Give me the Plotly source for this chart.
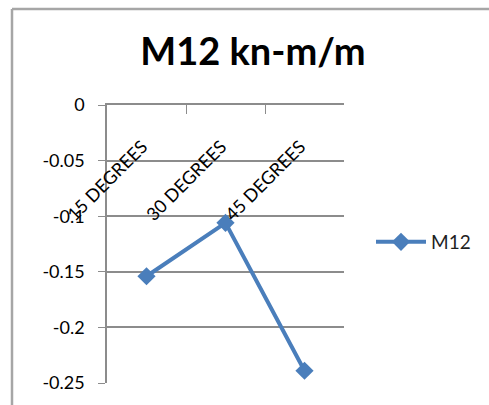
import plotly.graph_objects as go

categories = ["15 DEGREES", "30 DEGREES", "45 DEGREES"]
m12_values = [-0.154, -0.106, -0.239]
y_tick_vals = [0, -0.05, -0.1, -0.15, -0.2, -0.25]
y_tick_text = ["0", "-0.05", "-0.1", "-0.15", "-0.2", "-0.25"]

FONT = "Lato"
GRID = "#8c8c8c"

fig = go.Figure()
fig.add_trace(go.Scatter(
    x=categories, y=m12_values, name="M12", mode="lines+markers",
    line=dict(color="#4a7ebb", width=4),
    marker=dict(symbol="diamond", size=14, color="#4a7ebb"),
))

W, H = 489, 405
L, R, T, B = 107, 145, 105, 22
pw, ph = W - L - R, H - T - B

def px_x(p):
    return (p - L) / pw

def px_y(p):
    return (H - B - p) / ph

# category labels drawn on the category axis positions
annotations = [
    dict(x=c, xref="x", y=px_y(133), yref="paper", text=c, showarrow=False,
         textangle=-45, xanchor="right", yanchor="top", xshift=8,
         font=dict(size=18, family=FONT, color="#000000"))
    for c in categories
]

fig.update_layout(
    width=W, height=H,
    margin=dict(l=L, r=R, t=T, b=B, autoexpand=False),
    paper_bgcolor="white", plot_bgcolor="white",
    font=dict(family=FONT, color="#000000", size=16),
    title=dict(text="<b>M12 kn-m/m</b>", x=253 / W, xanchor="center", xref="container",
               y=1 - 52 / H, yanchor="middle", yref="container",
               font=dict(size=38, family=FONT, color="#000000")),
    showlegend=True,
    legend=dict(x=px_x(371), y=px_y(242), xanchor="left", yanchor="middle",
                font=dict(size=19, family=FONT, color="#1f1f1f"),
                itemwidth=50, bgcolor="rgba(0,0,0,0)"),
    xaxis=dict(
        type="category", side="top", range=[-0.5, 2.5],
        showline=True, linecolor=GRID, linewidth=1.5,
        ticks="inside", ticklen=9, tickcolor=GRID, tickson="boundaries",
        showticklabels=False, automargin=False,
        showgrid=False, zeroline=False,
    ),
    yaxis=dict(
        range=[-0.25, 0], tickvals=y_tick_vals, ticktext=y_tick_text,
        showline=True, linecolor=GRID, linewidth=1.5,
        ticks="outside", ticklen=7, tickcolor=GRID,
        showgrid=True, gridcolor=GRID, gridwidth=1.5,
        zeroline=False, automargin=False,
        tickfont=dict(size=18, family=FONT, color="#000000"),
        ticklabelstandoff=10,
    ),
    annotations=annotations,
    shapes=[
        dict(type="line", xref="paper", yref="paper",
             x0=px_x(12), x1=px_x(600), y0=px_y(9), y1=px_y(9),
             line=dict(color="#a6a6a6", width=2.5)),
        dict(type="line", xref="paper", yref="paper",
             x0=px_x(12), x1=px_x(12), y0=px_y(9), y1=px_y(500),
             line=dict(color="#a6a6a6", width=2.5)),
    ],
)

fig.write_html(
    "out.html",
    config={"displayModeBar": False},
    post_script="document.body.style.margin='0';document.body.style.padding='0';"
                "document.documentElement.style.overflow='hidden';",
)
